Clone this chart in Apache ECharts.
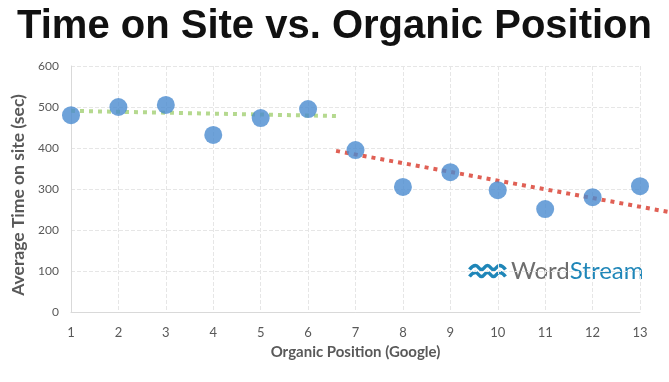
<!DOCTYPE html>
<html><head><meta charset="utf-8">
<script src="https://cdn.jsdelivr.net/npm/echarts@6/dist/echarts.min.js"></script>
<style>html,body{margin:0;padding:0;background:#fff}#c{width:669px;height:382px}</style>
</head><body><div id="c"></div>
<script>
const positions = [1,2,3,4,5,6,7,8,9,10,11,12,13];
const timeOnSite = [480,500,505,432,473,495,395,305,341,297,251,280,307];
const trendTop = [[0.81,491],[6.59,478]];
const trendBottom = [[6.59,393],[13.6,244]];
const yTicks = [0,100,200,300,400,500,600];

const chart = echarts.init(document.getElementById('c'));
chart.setOption({
  animation:false,
  backgroundColor:'#fff',
  title:{text:'Time on Site vs. Organic Position',left:'center',top:2,
    textStyle:{fontFamily:'Liberation Sans',fontWeight:'bold',fontSize:40,color:'#111'}},
  grid:[{left:71,right:29,top:66,bottom:70},{left:71,right:0,top:66,bottom:70}],
  xAxis:[{type:'value',min:1,max:13,interval:1,gridIndex:0,
    name:'Organic Position (Google)',nameLocation:'middle',nameGap:33,
    nameTextStyle:{fontFamily:'Lato',fontWeight:'bold',fontSize:15,color:'#595959'},
    axisLine:{lineStyle:{color:'#d9d9d9'}},axisTick:{show:false},
    axisLabel:{fontFamily:'Lato',fontSize:13,color:'#595959',margin:14},
    splitLine:{show:true,lineStyle:{color:'#e6e6e6',type:'dashed'}}},
   {type:'value',gridIndex:1,min:1,max:1+598*12/569,show:false}],
  yAxis:[{type:'value',min:0,max:600,interval:100,gridIndex:0,
    name:'Average Time on site (sec)',nameLocation:'middle',nameGap:38,
    nameTextStyle:{fontFamily:'Lato',fontWeight:'bold',fontSize:17.5,color:'#595959',padding:[0,12,0,0]},
    axisLine:{show:true,lineStyle:{color:'#d9d9d9'}},axisTick:{show:false},
    axisLabel:{fontFamily:'Lato',fontSize:12,color:'#595959',margin:12,
      formatter:v=>yTicks.includes(v)?String(v):''},
    splitLine:{show:true,lineStyle:{color:'#e6e6e6',type:'dashed'}}},
   {type:'value',gridIndex:1,min:0,max:600,show:false}],
  series:[
    {type:'line',data:trendTop,symbol:'none',clip:false,z:1,
      lineStyle:{color:'#b5d98f',width:4,type:[4,5]}},
    {type:'line',data:trendBottom,symbol:'none',clip:false,z:1,xAxisIndex:1,yAxisIndex:1,
      lineStyle:{color:'#e06055',width:4,type:[4,5]}},
    {type:'scatter',data:positions.map((p,i)=>[p,timeOnSite[i]]),symbolSize:18,z:3,
      itemStyle:{color:'#4a8bd0'}}
  ],
  graphic:[
    {type:'group',left:467,top:263,children:[
      {type:'polyline',shape:{points:[[0,4],[6,0],[12,4],[18,0],[24,4],[30,0],[36,4]],smooth:0.5},style:{stroke:'#1f86b8',lineWidth:3.5,fill:null}},
      {type:'polyline',shape:{points:[[0,11],[6,7],[12,11],[18,7],[24,11],[30,7],[36,11]],smooth:0.5},style:{stroke:'#1f86b8',lineWidth:3.5,fill:null}}
    ]},
    {type:'text',left:511,top:259,style:{
      rich:{a:{fontFamily:'Lato',fontSize:24,fill:'#6e6e6e'},b:{fontFamily:'Lato',fontSize:24,fill:'#1f86b8'}},
      text:'{a|Word}{b|Stream}'}}
  ]
});
</script></body></html>
